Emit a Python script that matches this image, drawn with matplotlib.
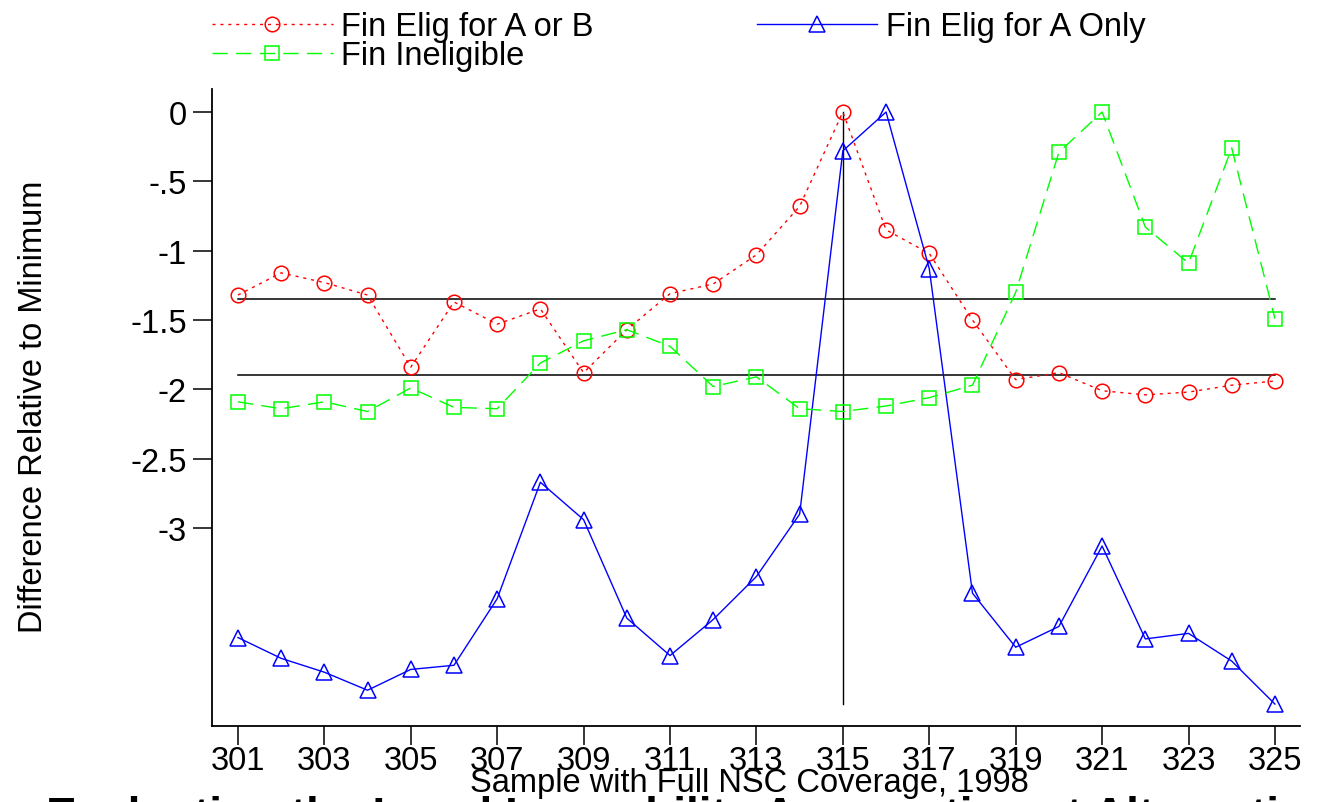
import matplotlib
matplotlib.use("Agg")
import matplotlib.pyplot as plt
import numpy as np

plt.rcParams['font.family'] = ['Liberation Sans', 'DejaVu Sans']

# sample number (x axis)
samples = list(range(301, 326))

# difference relative to minimum
elig_a_or_b = [-1.32, -1.16, -1.23, -1.32, -1.84, -1.37, -1.53, -1.42, -1.88, -1.57,
               -1.31, -1.24, -1.03, -0.68, 0.00, -0.85, -1.02, -1.50, -1.93, -1.88,
               -2.01, -2.04, -2.02, -1.97, -1.94]
elig_a_only = [-3.79, -3.94, -4.04, -4.17, -4.02, -3.99, -3.51, -2.67, -2.94, -3.65,
               -3.92, -3.66, -3.35, -2.90, -0.28, 0.00, -1.13, -3.47, -3.86, -3.71,
               -3.13, -3.80, -3.76, -3.96, -4.27]
ineligible = [-2.09, -2.14, -2.09, -2.16, -1.99, -2.13, -2.14, -1.81, -1.65, -1.57,
              -1.69, -1.98, -1.91, -2.14, -2.16, -2.12, -2.06, -1.97, -1.30, -0.29,
              0.00, -0.83, -1.09, -0.26, -1.49]

ref_lines = [-1.35, -1.90]     # horizontal reference lines
cutoff = 315                   # vertical line

xticks = list(range(301, 326, 2))
yticks = [0, -0.5, -1, -1.5, -2, -2.5, -3]
ytick_labels = ['0', '-.5', '-1', '-1.5', '-2', '-2.5', '-3']

W, H = 1317, 803
fig = plt.figure(figsize=(W / 100, H / 100), dpi=100)
ax = fig.add_axes([212 / W, 1 - 727 / H, (1300 - 212) / W, (727 - 90) / H])

fs = 23.5
red, blue, green = '#ff0000', '#0000ff', '#00ff00'

l1, = ax.plot(samples, elig_a_or_b, color=red, lw=1.0, dashes=(2.2, 3.5),
              marker='o', ms=10.5, mfc='none', mec=red, mew=1.1,
              label='Fin Elig for A or B')
l2, = ax.plot(samples, elig_a_only, color=blue, lw=1.0, ls='-',
              marker='^', ms=11, mfc='none', mec=blue, mew=1.1,
              label='Fin Elig for A Only')
l3, = ax.plot(samples, ineligible, color=green, lw=1.0, dashes=(11, 6),
              marker='s', ms=10, mfc='none', mec=green, mew=1.1,
              label='Fin Ineligible')

for yv in ref_lines:
    ax.plot([samples[0], samples[-1]], [yv, yv], color='black', lw=1.1, zorder=1)
ax.plot([cutoff, cutoff], [max(elig_a_or_b), min(elig_a_only)], color='black', lw=1.0, zorder=1)

ax.set_xlim(300.4, 325.58)
ax.set_ylim(-4.428, 0.166)
ax.set_xticks(xticks)
ax.set_xticklabels([str(v) for v in xticks], fontsize=fs)
ax.set_yticks(yticks)
ax.set_yticklabels(ytick_labels, fontsize=fs)
ax.tick_params(axis='both', direction='out', length=14, width=1.1, color='black')
ax.tick_params(axis='x', pad=0)
ax.tick_params(axis='y', pad=4)

for s in ['top', 'right']:
    ax.spines[s].set_visible(False)
for s in ['left', 'bottom']:
    ax.spines[s].set_linewidth(1.3)

ax.set_xlabel('Sample with Full NSC Coverage, 1998', fontsize=fs)
ax.xaxis.set_label_coords(0.4936, -0.065)
ax.xaxis.label.set_va('top')
ax.set_ylabel('Difference Relative to Minimum', fontsize=fs)
ax.yaxis.set_label_coords(-0.150, 0.502)

# legend above the plot region, two columns
fig.legend(handles=[l1, l3, l2], ncol=2, loc='upper left',
           bbox_to_anchor=(212 / W, 1 - 12 / H), frameon=False, fontsize=fs,
           handlelength=3.7, handletextpad=0.25, columnspacing=5.0,
           labelspacing=-0.05, borderpad=0, borderaxespad=0)

# title at the bottom, cut off by the image edge
fig.text(46 / W, 1 - 796 / H, 'Evaluating the Local Ignorability Assumption at Alternative Thresholds',
         fontsize=33, fontweight='bold', va='top', ha='left')

fig.savefig('out.png', dpi=100)
